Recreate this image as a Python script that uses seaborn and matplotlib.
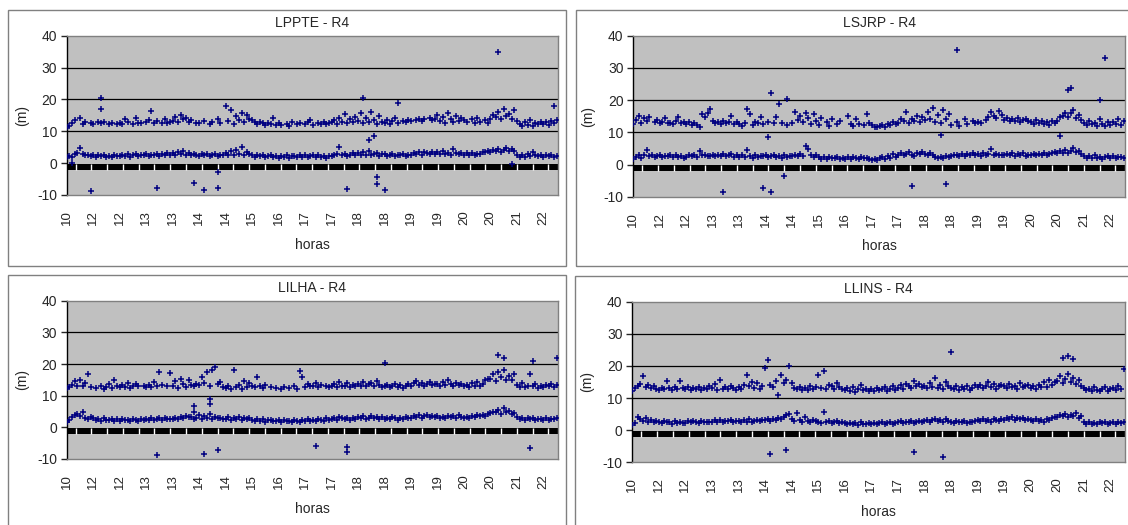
# Erro de posicionamento (m) ao longo do dia - estacoes R4
import numpy as np
import seaborn as sns
import matplotlib.pyplot as plt
from matplotlib.patches import Rectangle

nan = np.nan

# rotulos do eixo horizontal (um a cada 10 amostras)
horas_rotulos = ["10", "12", "12", "13", "13", "14", "14", "15", "16", "17",
                 "17", "18", "18", "19", "19", "20", "20", "21", "22"]

# ------------- LPPTE -------------
lppte_baixo = [
    1.8, 2.3, 2.0, 2.9, 3.1, 4.7, 2.8, 2.4, 2.7, 2.1,
    2.5, 1.9, 2.4, 2.1, 2.6, 1.8, 2.3, 2.0, 2.5, 2.2,
    2.1, 2.7, 2.3, 2.9, 2.0, 2.5, 2.8, 2.2, 2.6, 2.4,
    2.9, 2.2, 2.7, 2.4, 3.0, 2.1, 2.8, 2.5, 3.1, 2.6,
    3.3, 2.5, 3.6, 2.8, 3.9, 2.6, 3.1, 2.4, 3.0, 2.7,
    2.2, 2.8, 2.4, 3.0, 2.1, 2.6, 2.9, 2.3, 2.7, 2.5,
    3.2, 2.5, 3.8, 2.7, 4.1, 3.0, 5.1, 2.6, 3.4, 2.8,
    2.5, 1.9, 2.6, 2.1, 2.4, 1.8, 2.3, 2.7, 2.0, 2.2,
    1.7, 2.3, 1.9, 2.4, 1.6, 2.1, 2.2, 1.8, 2.5, 2.0,
    2.4, 1.8, 2.2, 2.5, 1.9, 2.6, 2.0, 2.3, 1.7, 2.2,
    2.2, 2.7, 3.0, 5.0, 2.4, 2.9, 2.1, 2.6, 3.2, 2.5,
    3.1, 2.4, 3.4, 2.6, 3.7, 2.5, 2.9, 3.3, 2.3, 2.8,
    2.8, 2.2, 2.6, 3.0, 2.1, 2.7, 2.4, 2.9, 2.3, 2.6,
    2.7, 3.3, 2.9, 3.6, 2.6, 3.4, 3.1, 2.8, 3.5, 3.0,
    3.4, 2.8, 3.7, 3.0, 3.3, 2.7, 4.5, 3.1, 2.9, 3.2,
    2.5, 3.1, 2.7, 3.3, 2.4, 3.0, 2.9, 3.4, 3.6, 3.9,
    3.6, 4.2, 3.8, 4.5, 3.5, 4.1, 4.7, 3.7, 4.3, 3.9,
    2.6, 2.0, 2.5, 1.9, 2.8, 2.2, 3.6, 2.4, 2.1, 2.5,
    1.9, 2.4, 2.1, 2.6, 2.0, 2.3]
lppte_alto = [
    11.4, 11.8, 12.6, 13.5, nan, 14.2, 12.4, 12.8, nan, 12.6,
    12.3, nan, 12.8, 12.5, 13.0, nan, 12.2, 12.7, nan, 12.4,
    12.6, 12.2, 13.9, 12.8, nan, 12.4, 14.1, 12.7, 12.5, nan,
    12.9, 13.4, 16.4, 12.6, 13.1, nan, 12.5, 13.8, 12.7, 13.0,
    13.2, 14.6, 12.9, 15.1, 13.8, 14.2, 12.8, 13.5, nan, 12.7,
    12.5, nan, 13.3, nan, 12.4, 12.9, nan, 13.8, 12.6, nan,
    17.9, 13.2, 16.6, 12.4, 14.8, 13.5, 15.6, 12.9, 15.2, 14.0,
    13.6, 12.8, 12.2, 13.0, 12.5, 11.9, 12.7, 12.3, 14.2, 12.1,
    12.6, 12.0, nan, 12.4, 11.8, 12.9, nan, 12.2, 12.5, nan,
    12.3, 12.8, 13.4, 12.1, nan, 12.6, 12.2, 13.0, 12.4, 12.7,
    12.8, 13.5, 12.4, 14.1, 13.0, 15.3, 12.6, 13.7, 12.9, 14.5,
    13.2, 15.7, 12.5, 14.3, 12.9, 16.0, 13.6, 12.2, 14.8, 13.0,
    12.7, 13.4, 12.2, 13.1, 14.2, 12.6, nan, 13.3, 12.9, 13.6,
    13.1, nan, 13.6, 14.0, 13.3, 13.8, nan, 14.1, 13.4, 13.7,
    15.2, 13.1, 14.4, 12.6, 15.8, 13.7, 12.9, 14.9, 13.3, 14.1,
    13.6, 12.8, nan, 13.9, 12.5, 14.2, 13.0, nan, 13.4, 12.7,
    13.8, 15.1, 14.4, 16.2, 13.9, 16.9, 14.7, 15.5, 14.0, 16.6,
    13.3, 12.4, 11.8, 12.9, 12.1, 13.6, 11.6, 12.7, 12.2, 13.0,
    12.3, 12.8, 12.0, 13.1, 12.5, 13.4]
lppte_out_amostra = [2, 9, 13, 13, 34, 48, 52, 57, 57, 106, 112, 114, 116, 117, 117, 120, 125, 163, 168, 184]
lppte_out_valor = [0.1, -8.6, 20.6, 17.0, -7.8, -6.3, -8.4, -2.9, -7.8, -8.1, 20.5, 7.3, 8.5, -4.3, -6.4, -8.3, 18.9, 34.8, -0.3, 17.9]

# ------------- LSJRP -------------
lsjrp_baixo = [
    1.6, 2.3, 2.8, 2.1, 3.0, 4.4, 2.6, 2.9, 2.4, 2.7,
    2.9, 2.3, 2.7, 2.5, 3.0, 2.2, 2.8, 2.4, 2.6, 2.1,
    2.4, 3.0, 2.6, 2.9, 2.3, 4.3, 2.8, 3.1, 2.5, 2.7,
    3.1, 2.6, 3.0, 2.5, 3.2, 2.7, 2.9, 3.3, 2.4, 2.8,
    2.2, 2.8, 2.4, 4.6, 2.6, 2.1, 2.9, 2.3, 2.7, 2.5,
    2.8, 2.2, 2.6, 3.0, 2.3, 2.7, 2.1, 2.9, 2.4, 2.6,
    2.5, 3.1, 2.7, 3.3, 2.6, 5.6, 4.8, 3.0, 2.4, 2.9,
    2.3, 1.8, 2.2, 1.7, 2.4, 2.0, 1.9, 2.3, 1.6, 2.1,
    1.8, 2.2, 1.7, 2.4, 2.0, 1.6, 2.3, 1.9, 2.1, 1.8,
    1.5, 1.8, 1.4, 1.9, 2.2, 1.7, 2.5, 2.1, 3.3, 2.4,
    3.0, 3.6, 2.8, 3.4, 3.9, 3.1, 2.7, 3.5, 3.2, 3.8,
    3.4, 2.9, 3.7, 3.1, 2.4, 2.0, 2.3, 1.9, 2.6, 2.2,
    2.5, 2.9, 3.1, 2.7, 3.4, 2.6, 3.2, 2.8, 3.5, 3.0,
    3.2, 2.7, 3.5, 2.9, 3.3, 4.8, 3.0, 3.4, 2.8, 3.1,
    2.8, 3.3, 2.9, 3.6, 2.7, 3.2, 3.0, 3.5, 2.6, 3.1,
    3.0, 3.4, 2.8, 3.3, 3.1, 3.6, 2.9, 3.2, 3.7, 3.9,
    3.5, 4.1, 3.7, 4.4, 3.6, 4.2, 5.0, 3.8, 4.3, 3.4,
    2.5, 1.9, 2.6, 2.1, 2.8, 2.0, 2.4, 1.8, 2.3, 2.7,
    2.1, 2.5, 1.9, 2.4, 2.2, 2.0]
lsjrp_alto = [
    12.6, 13.8, 15.2, 12.9, 14.3, 13.5, 14.8, nan, 13.1, 13.9,
    12.8, 13.2, 14.4, 12.9, 13.0, 12.7, 13.5, 14.6, 12.8, 13.1,
    12.7, 13.1, 12.4, 12.9, 12.2, 11.8, 15.6, 14.8, 16.1, 17.2,
    13.4, 12.8, 13.2, 12.6, 13.5, 12.9, 13.1, 15.1, 12.7, 13.3,
    12.5, 12.1, 13.0, 17.1, 15.8, 12.4, 13.2, 12.8, 14.9, 12.6,
    nan, 13.3, nan, 12.8, 14.8, nan, 13.0, nan, 12.4, nan,
    12.9, 16.3, 13.8, 15.2, 13.1, 16.0, 14.4, 12.7, 15.6, 13.5,
    12.3, 14.5, nan, 13.2, 12.1, 14.2, nan, 12.7, 13.5, nan,
    nan, 15.0, 12.5, 11.9, 14.2, 12.7, nan, 12.3, 15.8, 12.8,
    12.4, 11.7, 11.6, 11.9, 12.2, 11.8, 12.6, 12.3, 13.1, 12.7,
    13.0, 14.2, 13.6, 16.3, 12.9, 14.0, 13.5, 15.1, 13.2, 14.6,
    13.7, 16.4, 14.2, 17.5, 13.1, 15.3, 12.8, 16.9, 14.0, 15.7,
    12.4, nan, 13.1, 12.0, nan, 14.2, 12.6, nan, 13.5, 12.9,
    13.2, 12.8, nan, 13.9, 14.8, 16.2, 15.1, 14.4, 16.5, 15.3,
    13.8, 14.3, 13.4, 14.0, 13.6, 14.5, 13.2, 13.9, 14.1, 13.5,
    13.3, 12.6, 13.7, 12.9, 13.4, 12.5, 13.1, 12.3, 13.6, 13.0,
    13.5, 14.6, 15.2, 16.1, 14.8, 15.9, 16.8, 14.3, 15.5, 13.9,
    12.8, 12.2, 13.4, 12.5, 13.0, 11.9, 14.2, 12.6, 12.1, 13.3,
    12.4, 13.1, 12.7, 14.0, 12.3, 13.6]
lsjrp_out_amostra = [34, 49, 51, 52, 52, 55, 57, 58, 105, 116, 118, 122, 161, 164, 165, 176, 178]
lsjrp_out_valor = [-8.5, -7.3, 8.6, -8.5, 22.3, 18.8, -3.5, 20.3, -6.8, 9.3, -6.2, 35.6, 8.8, 23.1, 23.8, 20.1, 33.2]

# ------------- LILHA -------------
lilha_baixo = [
    1.8, 2.4, 3.2, 3.9, 4.3, 3.6, 4.8, 3.1, 2.7, 3.4,
    2.8, 2.3, 2.6, 2.1, 2.9, 2.4, 2.2, 2.7, 2.0, 2.5,
    2.0, 2.6, 2.2, 2.4, 1.9, 2.7, 2.3, 2.1, 2.5, 2.2,
    2.7, 2.3, 2.9, 2.4, 2.6, 3.0, 2.2, 2.8, 2.5, 2.7,
    2.5, 3.1, 2.6, 3.3, 2.8, 3.6, 3.2, 3.4, 2.7, 3.0,
    3.8, 2.6, 3.5, 2.8, 4.1, 2.7, 3.3, 2.9, 3.1, 2.5,
    2.6, 3.2, 2.4, 3.0, 2.7, 3.4, 2.3, 2.9, 2.5, 3.1,
    2.3, 1.9, 2.5, 2.0, 2.7, 1.8, 2.2, 2.4, 1.9, 2.1,
    2.2, 1.8, 2.4, 1.9, 2.1, 1.7, 2.3, 2.0, 1.8, 2.2,
    2.0, 2.5, 1.9, 2.4, 2.1, 2.6, 2.3, 1.9, 2.8, 2.2,
    2.5, 3.0, 2.4, 3.3, 2.8, 2.6, 3.1, 2.4, 2.9, 2.7,
    3.3, 2.8, 3.5, 2.6, 3.1, 3.7, 2.9, 3.2, 2.7, 3.4,
    2.6, 3.0, 2.5, 3.2, 2.8, 2.4, 3.1, 2.7, 3.3, 2.9,
    3.1, 3.6, 3.3, 3.9, 3.0, 3.5, 3.8, 3.2, 3.7, 3.4,
    3.6, 3.0, 3.4, 2.9, 3.7, 3.2, 3.5, 3.1, 3.8, 3.3,
    3.0, 3.4, 3.1, 3.6, 3.3, 3.8, 3.5, 4.0, 3.7, 4.2,
    4.4, 5.0, 4.7, 5.6, 4.3, 6.2, 4.9, 5.3, 4.1, 4.6,
    3.2, 2.6, 3.0, 2.4, 2.9, 2.5, 3.1, 2.3, 2.7, 2.6,
    2.4, 2.8, 2.3, 2.7, 2.5, 2.9]
lilha_alto = [
    12.3, 12.8, 13.5, 14.6, 13.2, 15.0, 12.9, 14.1, 16.8, 12.7,
    nan, 12.4, nan, 13.0, 12.1, 12.7, 13.6, 12.5, 14.8, 12.9,
    12.6, 13.4, 12.8, 14.0, 12.5, 13.2, 13.7, 12.9, nan, 13.1,
    12.8, 13.5, 12.6, 14.2, 13.0, 17.6, 13.3, nan, 12.9, 17.1,
    13.1, 14.6, 12.3, 15.2, 13.8, 12.7, 14.9, 13.4, 12.9, 13.6,
    13.4, 15.9, 14.1, 17.4, 13.2, 18.1, 19.2, 13.6, 14.3, 12.8,
    12.4, 12.9, 12.2, 18.0, 12.6, 13.3, 12.1, 14.5, 12.7, 13.9,
    13.2, 12.6, 16.0, 13.0, 12.4, 13.5, nan, 12.8, nan, 12.3,
    nan, 12.2, 12.7, nan, 12.4, nan, 13.0, 12.1, 17.8, 15.9,
    12.6, 13.8, 13.2, 12.9, 14.0, 12.7, 13.4, nan, 13.1, 12.8,
    13.0, 13.6, 12.7, 14.3, 13.2, 12.9, 13.9, 12.6, 13.4, 13.1,
    13.8, 13.1, 14.4, 12.9, 13.6, 14.0, 13.2, 14.6, 13.4, 12.8,
    12.9, 13.4, 12.6, 13.1, 13.7, 12.8, 13.3, 12.5, 13.0, 13.6,
    13.2, 13.9, 14.5, 13.4, 14.1, 13.0, 13.7, 14.3, 13.5, 13.8,
    13.7, 13.1, 14.2, 13.4, 15.0, 13.6, 12.9, 14.0, 13.3, 13.8,
    13.0, 13.5, 12.8, 13.9, 13.2, 14.4, 13.1, 13.6, 14.8, 15.2,
    15.3, 16.8, 14.6, 17.5, 15.9, 18.1, 14.9, 16.3, 15.1, 17.0,
    13.4, 12.8, 14.1, 12.6, 13.2, 17.0, 12.9, 13.7, 12.5, 13.1,
    12.7, 13.3, 12.9, 13.8, 12.6, 13.4]
lilha_out_amostra = [34, 48, 48, 52, 54, 54, 57, 94, 106, 106, 120, 163, 165, 175, 176, 185]
lilha_out_valor = [-8.7, 6.6, 5.0, -8.4, 9.0, 7.3, -7.2, -6.0, -6.3, -7.7, 20.3, 22.9, 22.0, -6.5, 21.0, 22.0]

# ------------- LLINS -------------
llins_baixo = [
    1.7, 2.2, 4.1, 3.6, 2.8, 3.9, 2.5, 3.2, 2.7, 3.0,
    2.7, 2.2, 2.9, 2.4, 2.6, 2.0, 2.8, 2.3, 2.5, 2.1,
    2.3, 2.8, 2.4, 3.0, 2.6, 2.2, 2.9, 2.5, 2.7, 2.4,
    2.6, 3.1, 2.7, 3.3, 2.5, 3.0, 2.8, 3.2, 2.6, 2.9,
    3.0, 2.5, 3.2, 2.7, 3.4, 2.6, 2.9, 3.1, 2.8, 3.3,
    3.1, 3.4, 2.9, 3.6, 3.3, 3.8, 3.5, 4.2, 4.7, 5.0,
    3.4, 2.8, 5.2, 3.1, 2.7, 4.1, 3.0, 2.6, 3.3, 2.9,
    2.7, 2.3, 5.7, 2.6, 2.9, 2.1, 2.5, 2.8, 2.2, 2.4,
    2.2, 1.8, 2.3, 1.9, 2.1, 1.7, 2.4, 2.0, 1.8, 2.2,
    1.9, 2.3, 1.8, 2.1, 2.4, 1.9, 2.2, 2.6, 2.0, 2.3,
    2.4, 2.8, 2.2, 2.7, 2.5, 3.0, 2.3, 2.6, 2.9, 2.5,
    2.8, 3.3, 2.7, 3.1, 3.5, 2.9, 3.2, 2.6, 3.4, 3.0,
    2.7, 2.3, 2.8, 2.4, 2.6, 2.9, 2.2, 2.7, 2.5, 3.0,
    3.2, 2.8, 3.5, 3.0, 3.3, 2.7, 3.4, 3.1, 2.9, 3.6,
    3.3, 3.8, 3.4, 4.0, 3.2, 3.7, 3.5, 3.9, 3.1, 3.6,
    3.2, 2.8, 3.4, 3.0, 3.3, 2.7, 3.5, 3.1, 3.8, 4.0,
    4.0, 4.6, 4.3, 5.0, 4.1, 4.8, 4.4, 5.3, 3.9, 4.5,
    2.4, 1.9, 2.6, 2.0, 2.3, 1.8, 2.5, 2.1, 2.4, 1.9,
    2.2, 2.6, 2.0, 2.5, 2.3, 2.7]
llins_alto = [
    12.2, 13.0, 13.8, 14.4, 16.8, 13.5, 14.1, 13.2, 13.9, 12.9,
    12.5, 13.2, 12.8, 15.4, 13.0, 12.6, 13.4, 12.9, 15.2, 13.1,
    12.7, 13.3, 12.5, 13.0, 12.8, 13.5, 12.6, 13.2, 12.9, 13.6,
    13.1, 14.5, 12.6, 15.6, 12.9, 13.4, 12.7, 13.8, 13.0, 12.5,
    13.3, 12.8, 14.2, 17.2, 13.6, 15.1, 13.0, 14.6, 12.9, 13.7,
    19.3, 21.8, 14.1, 13.4, 15.2, 10.8, 17.3, 14.6, 15.7, 20.0,
    14.6, 13.2, 12.8, 13.5, 12.6, 13.1, 12.4, 13.7, 12.9, 13.3,
    17.1, 13.0, 18.4, 12.7, 14.2, 13.6, 12.9, 14.8, 13.3, 12.8,
    12.6, 13.1, 12.3, 13.5, 12.0, 12.8, 14.2, 12.4, 12.9, 12.2,
    12.7, 12.1, 13.0, 12.4, 12.8, 13.4, 12.2, 12.9, 13.7, 12.5,
    13.2, 14.0, 12.9, 14.5, 13.6, 13.1, 15.2, 13.8, 14.3, 13.4,
    13.9, 13.2, 14.7, 13.5, 16.4, 13.0, 14.1, 12.8, 15.0, 13.6,
    13.1, 12.7, 13.8, 12.5, 13.3, 12.9, 13.6, 12.4, 13.2, 14.1,
    13.4, 14.2, 13.0, 13.8, 15.1, 13.3, 14.5, 12.9, 13.7, 14.0,
    13.6, 13.1, 14.3, 13.4, 13.9, 12.8, 14.6, 13.3, 13.7, 14.1,
    13.2, 13.8, 12.9, 14.1, 13.5, 14.9, 13.3, 15.6, 14.2, 15.0,
    15.4, 16.8, 14.7, 15.9, 17.5, 15.1, 16.2, 14.5, 15.7, 13.9,
    13.0, 12.4, 12.8, 12.1, 13.3, 12.6, 12.2, 12.9, 13.5, 12.3,
    12.7, 13.2, 12.5, 13.6, 12.9, 18.9]
llins_out_amostra = [52, 58, 106, 117, 120, 162, 164, 166]
llins_out_valor = [-7.3, -6.1, -6.9, -8.4, 24.3, 22.4, 23.0, 22.2]

# ------------- Estilo -------------
sns.set_style("white")
plt.rcParams['font.family'] = ['Liberation Sans', 'DejaVu Sans']
plt.rcParams['axes.unicode_minus'] = False
azul = '#000080'

W, H = 1128, 525
fig = plt.figure(figsize=(W / 100, H / 100), dpi=100)

# molduras de cada grafico (pixels)
for x0, y0, x1, y1 in [(8, 10, 566, 266), (576, 10, 1140, 266),
                       (8, 275, 566, 540), (575, 276, 1140, 540)]:
    fig.add_artist(Rectangle((x0 / W, 1 - y1 / H), (x1 - x0) / W, (y1 - y0) / H,
                             transform=fig.transFigure, fill=False,
                             edgecolor='#808080', lw=1))


def px_axes(x0, y0, x1, y1):
    return fig.add_axes([x0 / W, 1 - y1 / H, (x1 - x0) / W, (y1 - y0) / H])


def desenha(ax, titulo, baixo, alto, out_x, out_y):
    ax.set_facecolor('#C0C0C0')
    for y in (10, 20, 30):
        ax.axhline(y, color='black', lw=0.9, zorder=0.5)
    # faixa preta com marcas brancas junto ao zero
    ax.axhspan(-2.0, -0.3, color='black', lw=0, zorder=1)
    ax.vlines(np.arange(3.4, 186, 5.95), -2.0, -0.3, color='white', lw=1, zorder=1.5)

    for xs, ys in [(np.arange(len(baixo)), baixo), (np.arange(len(alto)), alto), (out_x, out_y)]:
        sns.scatterplot(x=xs, y=ys, ax=ax, marker='+', color=azul,
                        s=16, linewidth=1.1, legend=False, zorder=3)

    ax.set_xlim(0, 185.5)
    ax.set_ylim(-10, 40)
    ax.set_yticks(range(-10, 41, 10))
    ax.set_xticks(np.arange(0, 181, 10))
    ax.set_xticklabels(horas_rotulos, rotation=90)
    ax.tick_params(axis='x', length=0, pad=11, labelsize=9.5)
    ax.tick_params(axis='y', length=4, width=1, direction='out', left=True,
                   labelsize=10, pad=3)
    for lado in ('top', 'right', 'bottom'):
        ax.spines[lado].set_color('#808080')
        ax.spines[lado].set_linewidth(1)
    ax.spines['left'].set_color('black')
    ax.spines['left'].set_linewidth(1)
    ax.set_xlabel('horas', fontsize=10, labelpad=9)
    ax.set_ylabel('(m)', fontsize=10, labelpad=6)
    ax.set_title(titulo, fontsize=10, pad=6)


ax1 = px_axes(66.7, 35.7, 558, 195)
ax2 = px_axes(633.3, 35.7, 1125, 196.7)
ax3 = px_axes(66.7, 300.7, 558, 459)
ax4 = px_axes(632.3, 301.7, 1125, 462.3)

desenha(ax1, 'LPPTE - R4', lppte_baixo, lppte_alto, lppte_out_amostra, lppte_out_valor)
desenha(ax2, 'LSJRP - R4', lsjrp_baixo, lsjrp_alto, lsjrp_out_amostra, lsjrp_out_valor)
desenha(ax3, 'LILHA - R4', lilha_baixo, lilha_alto, lilha_out_amostra, lilha_out_valor)
desenha(ax4, 'LLINS - R4', llins_baixo, llins_alto, llins_out_amostra, llins_out_valor)

fig.savefig('out.png', dpi=100)
